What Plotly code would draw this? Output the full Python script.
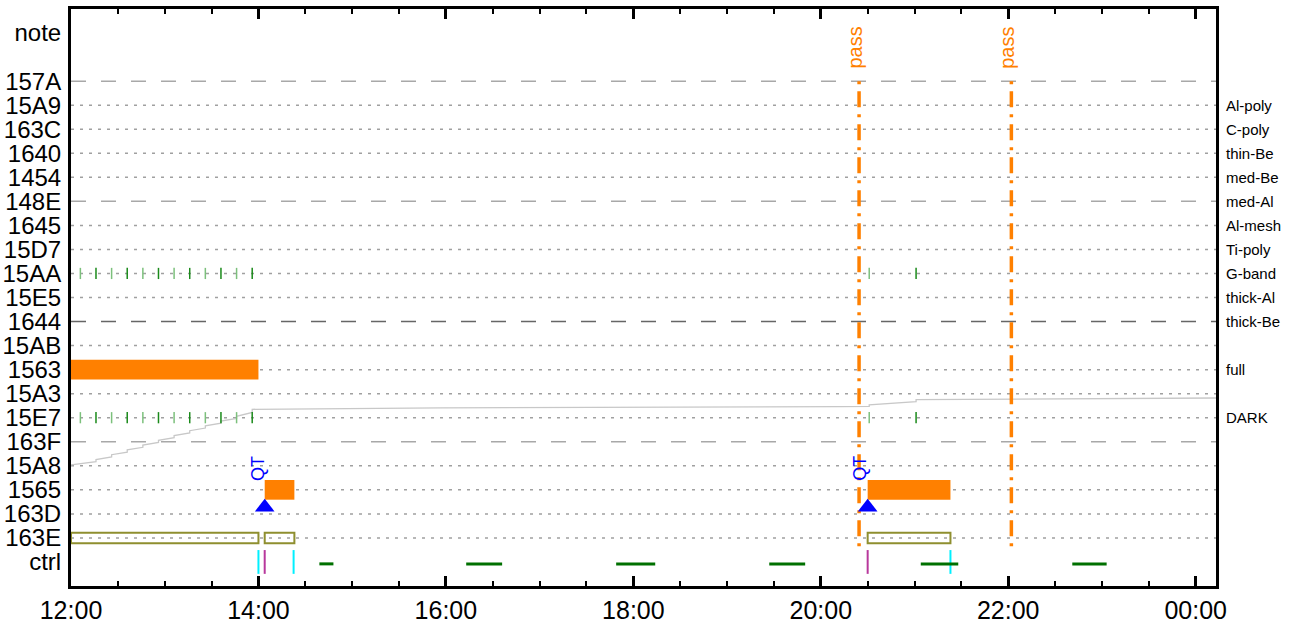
import pandas as pd
import plotly.graph_objects as go

DAY = "2024-05-01 "
NEXT = "2024-05-02 "

def t(s):
    # times before 12:00 belong to the next day
    return (NEXT if s < "12:00" else DAY) + s

# ---- categories (bottom to top) ----
rows = ["ctrl", "163E", "163D", "1565", "15A8", "163F", "15E7", "15A3", "1563", "15AB",
        "1644", "15E5", "15AA", "15D7", "1645", "148E", "1454", "1640", "163C", "15A9",
        "157A", "note"]
row_pos = [0, 1, 2, 3, 4, 5, 6, 7, 8, 9, 10, 11, 12, 13, 14, 15, 16, 17, 18, 19, 20, 22]
Y = dict(zip(rows, row_pos))

dashed_rows = ["157A", "148E", "1644", "163F"]
dark_dashed_rows = ["1644"]

right_labels = {"15A9": "Al-poly", "163C": "C-poly", "1640": "thin-Be", "1454": "med-Be",
                "148E": "med-Al", "1645": "Al-mesh", "15D7": "Ti-poly", "15AA": "G-band",
                "15E5": "thick-Al", "1644": "thick-Be", "1563": "full", "15E7": "DARK"}

# ---- orange exposure bars ----
bar_rows = ["1563", "1565", "1565"]
bar_start = ["12:00", "14:04", "20:30"]
bar_end = ["14:00", "14:23", "21:23"]

# ---- olive outlined boxes ----
box_rows = ["163E", "163E", "163E"]
box_start = ["12:00", "14:04", "20:30"]
box_end = ["14:00", "14:23", "21:23"]

# ---- QT triangles ----
qt_times = ["14:04", "20:30"]

# ---- pass lines ----
pass_times = ["20:24.5", "22:02"]

# ---- ctrl marks ----
cyan_times = ["14:00", "14:22.5", "21:23"]
magenta_times = ["14:04", "20:30"]
green_seg_start = ["14:39", "16:13", "17:49", "19:27", "21:04", "22:41"]
green_seg_end = ["14:48", "16:36", "18:14", "19:50", "21:28", "23:03"]

# ---- small green ticks on G-band / DARK ----
tick_times = ["12:06", "12:16", "12:26", "12:36", "12:46", "12:56", "13:06", "13:16",
              "13:26", "13:36", "13:46", "13:56", "20:31", "21:01"]
tick_rows = ["15AA", "15E7"]

# ---- gray cumulative step line ----
gray_times = ["12:00", "12:16", "12:16", "12:26", "12:26", "12:36", "12:36", "12:46", "12:46",
              "12:56", "12:56", "13:06", "13:06", "13:16", "13:16", "13:26", "13:26",
              "13:36", "13:36", "13:46", "13:46", "13:56", "13:56", "15:57", "20:13",
              "20:31", "20:31", "21:01", "21:01", "22:21", "00:15"]
gray_vals = [4.04, 4.17, 4.26, 4.37, 4.46, 4.57, 4.66, 4.77, 4.86, 4.97, 5.06, 5.17, 5.26,
             5.37, 5.46, 5.57, 5.66, 5.77, 5.86, 5.97, 6.06, 6.22, 6.35, 6.41, 6.46,
             6.47, 6.53, 6.67, 6.75, 6.79, 6.82]

x_range = ["12:00", "00:13"]

ORANGE = "#ff8000"
BLUE = "#0000ff"
OLIVE = "#8f8f2f"


def ts(s):
    hh, rest = s.split(":")
    if "." in rest:
        mm, frac = rest.split(".")
        sec = int(round(float("0." + frac) * 60))
        s = f"{hh}:{mm}:{sec:02d}"
    return pd.Timestamp(t(s))


fig = go.Figure()

# gridlines
for r in rows:
    if r in ("note", "ctrl"):
        continue
    if r in dashed_rows:
        dash, col = "15px,15px", ("#666666" if r in dark_dashed_rows else "#a8a8a8")
    else:
        dash, col = "3px,6px", "#a0a0a0"
    fig.add_shape(type="line", xref="paper", x0=0, x1=1, yref="y", y0=Y[r], y1=Y[r],
                  line=dict(color=col, width=1.5, dash=dash), layer="below")

# gray step line
fig.add_trace(go.Scatter(x=[ts(v) for v in gray_times], y=gray_vals, mode="lines",
                         line=dict(color="#c8c8c8", width=1.3), hoverinfo="skip"))

# orange bars
fig.add_trace(go.Bar(orientation="h", y=[Y[r] for r in bar_rows],
                     base=[ts(s) for s in bar_start],
                     x=[(ts(e) - ts(s)).total_seconds() * 1000 for s, e in zip(bar_start, bar_end)],
                     width=0.82, marker=dict(color=ORANGE, line=dict(width=0))))

# olive boxes
fig.add_trace(go.Bar(orientation="h", y=[Y[r] for r in box_rows],
                     base=[ts(s) for s in box_start],
                     x=[(ts(e) - ts(s)).total_seconds() * 1000 for s, e in zip(box_start, box_end)],
                     width=0.44, marker=dict(color="rgba(0,0,0,0)", line=dict(color=OLIVE, width=2))))

# green small ticks
for r in tick_rows:
    fig.add_trace(go.Scatter(x=[ts(v) for v in tick_times], y=[Y[r]] * len(tick_times),
                             mode="markers",
                             marker=dict(symbol="line-ns", size=8,
                                         line=dict(width=1.5,
                                                   color=["#7cc07c" if i % 2 == 0 else "#1a8a1a"
                                                          for i in range(len(tick_times))]))))

# pass lines (drawn top-down so the dash pattern starts at 157A)
for p in pass_times:
    fig.add_trace(go.Scatter(x=[ts(p), ts(p)], y=[Y["157A"], 0.55], mode="lines",
                             line=dict(color=ORANGE, width=3.5, dash="3px,7px,16px,7px")))
    fig.add_annotation(x=ts(p), y=21.4, text="pass", textangle=-90, showarrow=False,
                       xshift=-4, font=dict(size=20, color=ORANGE))

# QT triangles
fig.add_trace(go.Scatter(x=[ts(q) for q in qt_times], y=[Y["163D"] + 0.28] * len(qt_times),
                         mode="markers", marker=dict(symbol="triangle-up", size=17, color=BLUE)))
for q in qt_times:
    fig.add_annotation(x=ts(q), y=3.9, text="QT", textangle=-90, showarrow=False,
                       xshift=-7, font=dict(size=18, color=BLUE))

# ctrl vertical marks
fig.add_trace(go.Scatter(x=[ts(c) for c in cyan_times], y=[0] * len(cyan_times), mode="markers",
                         marker=dict(symbol="line-ns", size=17, line=dict(width=2, color="#00f0ff"))))
fig.add_trace(go.Scatter(x=[ts(c) for c in magenta_times], y=[0] * len(magenta_times), mode="markers",
                         marker=dict(symbol="line-ns", size=17, line=dict(width=2, color="#b8389c"))))

# ctrl green segments
gx, gy = [], []
for s, e in zip(green_seg_start, green_seg_end):
    gx += [ts(s), ts(e), None]
    gy += [-0.08, -0.08, None]
fig.add_trace(go.Scatter(x=gx, y=gy, mode="lines", line=dict(color="#007000", width=3)))

# right-side labels
for r, lab in right_labels.items():
    fig.add_annotation(xref="paper", x=1, y=Y[r], text=lab, showarrow=False, xanchor="left",
                       xshift=8, font=dict(size=15, color="black"))

fig.update_layout(
    width=1298, height=625,
    margin=dict(l=71, r=82, t=9, b=39, autoexpand=False),
    plot_bgcolor="white", paper_bgcolor="white",
    showlegend=False, barmode="overlay",
    font=dict(family="Liberation Sans, Arial, sans-serif", color="black"),
)
fig.update_xaxes(
    type="date", range=[ts(x_range[0]), ts(x_range[1])], automargin=False,
    dtick=7200000, tick0=ts("12:00"), tickformat="%H:%M",
    ticks="inside", ticklen=10, tickwidth=3, tickcolor="black",
    minor=dict(dtick=1800000, ticks="inside", ticklen=5, tickwidth=2, tickcolor="black"),
    showline=True, linewidth=3, linecolor="black", mirror="ticks",
    showgrid=False, zeroline=False, tickfont=dict(size=25, color="black"),
)
fig.update_yaxes(
    range=[-1, 23], tickvals=row_pos, ticktext=rows, ticks="", automargin=False,
    showline=True, linewidth=3, linecolor="black", mirror=True, ticklabelstandoff=2,
    showgrid=False, zeroline=False, tickfont=dict(size=24, color="black"),
)

fig.write_html("out.html", config={"displayModeBar": False},
               post_script="document.body.style.margin='0';")
